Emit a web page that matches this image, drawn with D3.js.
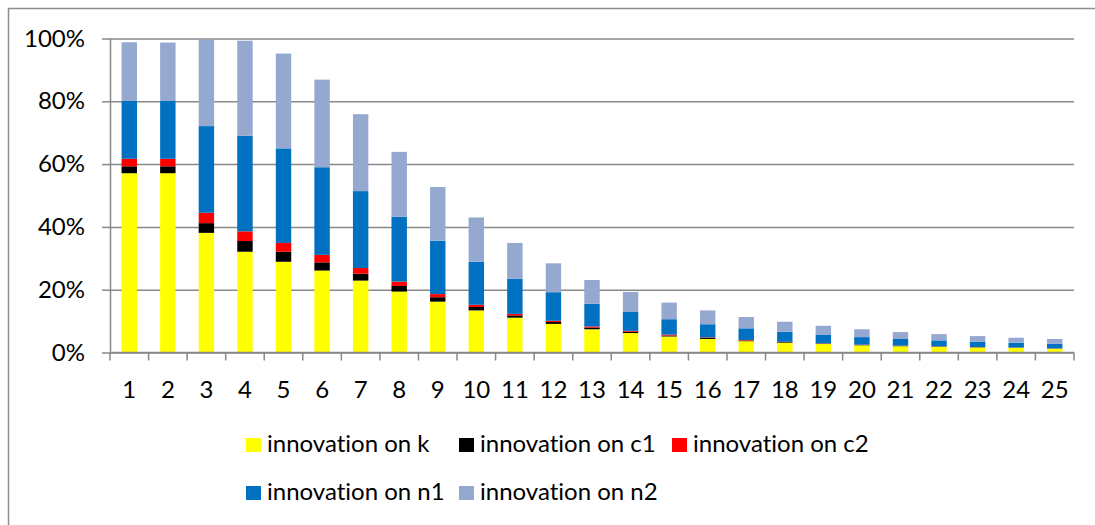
<!DOCTYPE html>
<html>
<head>
<meta charset="utf-8">
<script src="https://cdn.jsdelivr.net/npm/d3@7"></script>
<style>
  html, body { margin: 0; padding: 0; background: #fff; }
  svg { display: block; }
  text { font-family: Lato, "Open Sans", sans-serif; fill: #000; font-variant-ligatures: none; }
</style>
</head>
<body>
<svg id="chart" width="1095" height="525"></svg>
<script>
// Share of each innovation in the forecast error variance, by horizon (percent)
const categories = ["1","2","3","4","5","6","7","8","9","10","11","12","13","14","15","16","17","18","19","20","21","22","23","24","25"];
const innovK  = [57.1,57.1,38.1,32.1,28.9,26.1,22.9,19.4,16.2,13.4,11.1,9.1,7.4,6.2,5.1,4.3,3.6,3.1,2.7,2.3,2.0,1.8,1.6,1.5,1.2];
const innovC1 = [2.2,2.2,3.1,3.4,3.2,2.6,2.2,1.8,1.4,1.1,0.7,0.6,0.5,0.4,0.3,0.3,0.2,0.2,0.1,0.1,0.1,0.08,0.07,0.06,0.05];
const innovC2 = [2.4,2.4,3.3,3.1,2.8,2.4,1.8,1.4,1.0,0.7,0.5,0.4,0.4,0.3,0.3,0.2,0.2,0.1,0.1,0.1,0.1,0.07,0.06,0.05,0.05];
const innovN1 = [18.4,18.4,27.6,30.4,30.1,27.9,24.5,20.6,17.0,13.7,11.2,9.1,7.2,6.0,4.9,4.2,3.7,3.2,2.7,2.4,2.1,1.9,1.7,1.5,1.5];
const innovN2 = [18.7,18.6,27.6,30.3,30.2,27.9,24.5,20.7,17.1,14.1,11.4,9.2,7.6,6.4,5.3,4.4,3.6,3.2,2.9,2.5,2.2,2.0,1.8,1.6,1.5];
const seriesNames = ["innovation on k","innovation on c1","innovation on c2","innovation on n1","innovation on n2"];
const seriesColors = ["#FFFF00","#000000","#FF0000","#0070C0","#95A9D0"];
const yTicks = [0,20,40,60,80,100];

const seriesValues = [innovK, innovC1, innovC2, innovN1, innovN2];
const rows = categories.map((c, i) => {
  const r = { cat: c };
  seriesNames.forEach((s, j) => r[s] = seriesValues[j][i]);
  return r;
});

const svg = d3.select("#chart");
const plot = { left: 110, right: 1074, top: 38.5, bottom: 352.5 };
const grey = "#898989";

// outer chart frame
svg.append("rect")
  .attr("x", 8.5).attr("y", 8.5)
  .attr("width", 1100).attr("height", 540)
  .attr("fill", "none").attr("stroke", "#8e8e8e").attr("stroke-width", 1.5);

const x = d3.scaleBand().domain(categories)
  .range([plot.left, plot.right])
  .paddingInner(0.6).paddingOuter(0.3);
const y = d3.scaleLinear().domain([0, 100]).range([plot.bottom, plot.top]);

// horizontal gridlines
svg.append("g")
  .attr("transform", `translate(${plot.left},0)`)
  .call(d3.axisLeft(y).tickValues(yTicks).tickSize(-(plot.right - plot.left)).tickFormat(""))
  .call(g => g.select(".domain").remove())
  .call(g => g.selectAll(".tick line").attr("stroke", grey).attr("stroke-width", 1.5));

// stacked bars
const stack = d3.stack().keys(seriesNames)(rows);
svg.append("g").selectAll("g")
  .data(stack).join("g")
  .attr("fill", (d, i) => seriesColors[i])
  .selectAll("rect")
  .data(d => d).join("rect")
  .attr("x", d => x(d.data.cat))
  .attr("width", x.bandwidth())
  .attr("y", d => y(d[1]))
  .attr("height", d => Math.max(0, y(d[0]) - y(d[1])));

// value axis
svg.append("g")
  .attr("transform", `translate(${plot.left},0)`)
  .call(d3.axisLeft(y).tickValues(yTicks).tickSize(8).tickSizeOuter(0).tickPadding(17).tickFormat(d => d + "%"))
  .call(g => g.select(".domain").attr("stroke", grey).attr("stroke-width", 1.5))
  .call(g => g.selectAll(".tick line").attr("stroke", grey).attr("stroke-width", 1.5))
  .call(g => g.selectAll("text").style("font-size", "24px").attr("fill", "#000"));

// category axis: baseline, boundary ticks, centred labels
const xAxis = svg.append("g").attr("transform", `translate(0,${plot.bottom})`);
xAxis.append("line")
  .attr("x1", plot.left).attr("x2", plot.right)
  .attr("stroke", grey).attr("stroke-width", 1.5);
const step = x.step();
const bounds = d3.range(categories.length + 1).map(i => x(categories[0]) - x.paddingOuter() * step + i * step);
xAxis.selectAll("line.bound").data(bounds).join("line")
  .attr("class", "bound")
  .attr("x1", d => d).attr("x2", d => d)
  .attr("y1", 0).attr("y2", 8)
  .attr("stroke", grey).attr("stroke-width", 1.5);
xAxis.append("g")
  .call(d3.axisBottom(x).tickSize(0).tickPadding(28))
  .call(g => g.select(".domain").remove())
  .call(g => g.selectAll("text").style("font-size", "24px").attr("fill", "#000"));

// legend
const legendCols = [246, 459, 672];
const legendRows = [438, 486];
const legend = svg.append("g");
seriesNames.forEach((name, i) => {
  const lx = legendCols[i % 3];
  const ly = legendRows[Math.floor(i / 3)];
  const item = legend.append("g").attr("transform", `translate(${lx},${ly})`);
  item.append("rect").attr("width", 15).attr("height", 14).attr("fill", seriesColors[i]);
  item.append("text").attr("x", 21).attr("y", 14).style("font-size", "24px").text(name);
});
</script>
</body>
</html>
